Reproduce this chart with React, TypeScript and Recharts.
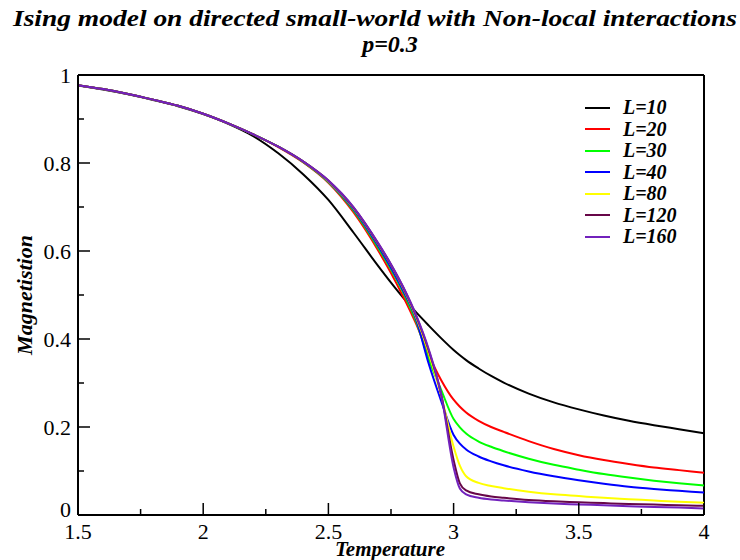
import React from 'react';
import { LineChart, Line, XAxis, YAxis, ReferenceLine, Legend } from 'recharts';

// temperature grid (finer around the transition)
const temps = [1.5, 1.6, 1.7, 1.8, 1.9, 2.0, 2.1, 2.2, 2.3, 2.4, 2.5, 2.6, 2.7, 2.75, 2.8, 2.85, 2.9, 2.95, 3.0, 3.025, 3.05, 3.1, 3.15, 3.2, 3.3, 3.4, 3.5, 3.6, 3.7, 3.8, 3.9, 4.0];

const magL10 = [0.976, 0.967, 0.956, 0.943, 0.929, 0.911, 0.889, 0.861, 0.822, 0.774, 0.716, 0.642, 0.565, 0.528, 0.493, 0.461, 0.431, 0.402, 0.375, 0.363, 0.352, 0.333, 0.316, 0.301, 0.276, 0.256, 0.240, 0.226, 0.214, 0.204, 0.195, 0.186];
const magL20 = [0.977, 0.968, 0.957, 0.944, 0.930, 0.912, 0.890, 0.865, 0.836, 0.801, 0.755, 0.688, 0.600, 0.550, 0.495, 0.435, 0.365, 0.307, 0.262, 0.246, 0.233, 0.214, 0.200, 0.189, 0.168, 0.150, 0.136, 0.125, 0.116, 0.108, 0.102, 0.096];
const magL30 = [0.977, 0.968, 0.957, 0.944, 0.930, 0.912, 0.890, 0.865, 0.837, 0.802, 0.757, 0.692, 0.606, 0.558, 0.504, 0.440, 0.355, 0.285, 0.218, 0.199, 0.185, 0.167, 0.155, 0.145, 0.128, 0.114, 0.103, 0.093, 0.085, 0.078, 0.072, 0.067];
const magL40 = [0.977, 0.968, 0.957, 0.944, 0.930, 0.912, 0.890, 0.865, 0.837, 0.803, 0.758, 0.695, 0.610, 0.562, 0.508, 0.445, 0.345, 0.260, 0.182, 0.162, 0.149, 0.133, 0.122, 0.113, 0.099, 0.088, 0.079, 0.071, 0.064, 0.059, 0.055, 0.051];
const magL80 = [0.977, 0.968, 0.957, 0.944, 0.930, 0.912, 0.890, 0.865, 0.837, 0.803, 0.759, 0.698, 0.615, 0.568, 0.514, 0.450, 0.370, 0.272, 0.155, 0.112, 0.088, 0.073, 0.066, 0.061, 0.053, 0.047, 0.043, 0.039, 0.036, 0.033, 0.030, 0.028];
const magL120 = [0.977, 0.968, 0.957, 0.944, 0.930, 0.912, 0.890, 0.865, 0.837, 0.803, 0.760, 0.699, 0.616, 0.569, 0.516, 0.453, 0.375, 0.275, 0.125, 0.072, 0.056, 0.047, 0.042, 0.039, 0.034, 0.031, 0.029, 0.027, 0.025, 0.024, 0.022, 0.021];
const magL160 = [0.977, 0.968, 0.957, 0.944, 0.930, 0.912, 0.890, 0.865, 0.837, 0.803, 0.760, 0.700, 0.617, 0.570, 0.517, 0.455, 0.378, 0.275, 0.108, 0.060, 0.047, 0.039, 0.035, 0.033, 0.029, 0.026, 0.024, 0.022, 0.020, 0.018, 0.017, 0.015];

const seriesNames = ['L=10', 'L=20', 'L=30', 'L=40', 'L=80', 'L=120', 'L=160'];
const seriesColors = ['#000000', '#ff0000', '#00ff00', '#0000ff', '#ffff00', '#670748', '#7221bc'];
const seriesValues = [magL10, magL20, magL30, magL40, magL80, magL120, magL160];

// ticks: majors carry labels, minors in between
const xTicks = [1.5, 1.75, 2, 2.25, 2.5, 2.75, 3, 3.25, 3.5, 3.75, 4];
const xTickLabels = ['1.5', '2', '2.5', '3', '3.5', '4'];
const yTicks = [0, 0.1, 0.2, 0.3, 0.4, 0.5, 0.6, 0.7, 0.8, 0.9, 1];
const yTickLabels = ['0', '0.2', '0.4', '0.6', '0.8', '1'];

const data = temps.map((t, i) => {
  const row: Record<string, number> = { t };
  seriesNames.forEach((name, s) => { row[name] = seriesValues[s][i]; });
  return row;
});

const FONT = "'Liberation Serif', 'Times New Roman', Times, 'DejaVu Serif', serif";

const XTick = (props: any) => {
  const { x, y, index } = props;
  const major = index % 2 === 0;
  return (
    <g>
      <line x1={x} x2={x} y1={y} y2={y - (major ? 12 : 6)} stroke="#000" strokeWidth={1.5} />
      {major && (
        <text x={x} y={y + 24} textAnchor="middle" fontSize={22} fontFamily={FONT} fill="#000">
          {xTickLabels[index / 2]}
        </text>
      )}
    </g>
  );
};

const YTick = (props: any) => {
  const { x, y, index } = props;
  const major = index % 2 === 0;
  return (
    <g>
      <line x1={x} x2={x + (major ? 12 : 6)} y1={y} y2={y} stroke="#000" strokeWidth={1.5} />
      {major && (
        <text x={x - 7} y={index === 0 ? y - 6 : y} dy="0.35em" textAnchor="end" fontSize={22} fontFamily={FONT} fill="#000">
          {yTickLabels[index / 2]}
        </text>
      )}
    </g>
  );
};

const LegendBox = ({ payload }: any) => {
  const items = [...(payload || [])].sort(
    (a: any, b: any) => seriesNames.indexOf(a.value) - seriesNames.indexOf(b.value)
  );
  return (
    <div style={{ fontFamily: FONT, fontWeight: 'bold', fontStyle: 'italic', fontSize: 20, lineHeight: '21.5px' }}>
      {items.map((e: any) => (
        <div key={e.value} style={{ display: 'flex', alignItems: 'center', height: 21.5 }}>
          <span style={{ display: 'inline-block', width: 25, height: 2, background: e.color, marginRight: 13 }} />
          <span>{e.value}</span>
        </div>
      ))}
    </div>
  );
};

const App: React.FC = () => {
  return (
    <div style={{ position: 'absolute', left: 0, top: 0, width: 740, height: 560, background: '#fff' }}>
      <LineChart width={740} height={560} data={data} margin={{ top: 75, right: 36, bottom: 0, left: 28 }}>
        <XAxis
          dataKey="t"
          type="number"
          domain={[1.5, 4]}
          ticks={xTicks}
          interval={0}
          tickSize={0}
          tickMargin={0}
          tick={<XTick />}
          height={45}
          axisLine={{ stroke: '#000', strokeWidth: 2 }}
          tickLine={false}
          allowDataOverflow
        />
        <YAxis
          type="number"
          domain={[0, 1]}
          ticks={yTicks}
          interval={0}
          tickSize={0}
          tickMargin={0}
          tick={<YTick />}
          width={50}
          axisLine={{ stroke: '#000', strokeWidth: 2 }}
          tickLine={false}
          allowDataOverflow
        />
        <ReferenceLine y={1} stroke="#000" strokeWidth={2} />
        <ReferenceLine x={4} stroke="#000" strokeWidth={2} />
        {seriesNames.map((name, s) => (
          <Line
            key={name}
            type="monotone"
            dataKey={name}
            name={name}
            stroke={seriesColors[s]}
            strokeWidth={2}
            dot={false}
            isAnimationActive={false}
          />
        ))}
        <Legend
          layout="vertical"
          align="center"
          verticalAlign="middle"
          content={<LegendBox />}
          wrapperStyle={{ top: 97, left: 585, width: 130 }}
        />
      </LineChart>
      <svg width={740} height={560} style={{ position: 'absolute', left: 0, top: 0, pointerEvents: 'none' }}>
        <g fontFamily={FONT} fontWeight="bold" fontStyle="italic" fill="#000">
          <text x={375} y={26} textAnchor="middle" fontSize={24} textLength={724} lengthAdjust="spacingAndGlyphs">
            Ising model on directed small-world with  Non-local interactions
          </text>
          <text x={390} y={52} textAnchor="middle" fontSize={24}>p=0.3</text>
          <text x={390} y={556} textAnchor="middle" fontSize={21}>Temperature</text>
          <text x={0} y={0} transform="translate(32,295) rotate(-90)" textAnchor="middle" fontSize={22}>Magnetistion</text>
        </g>
      </svg>
    </div>
  );
};

export default App;
